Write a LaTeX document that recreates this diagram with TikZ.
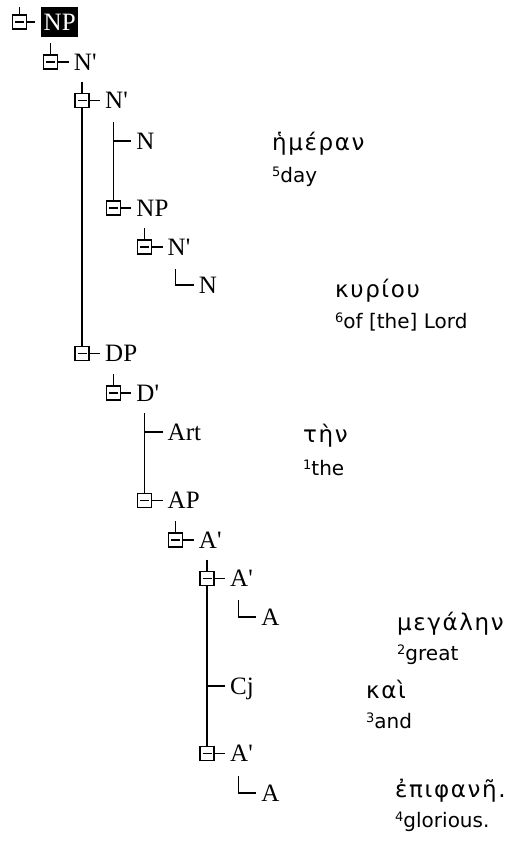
\documentclass[tikz,border=0pt]{standalone}
\usepackage{fontspec}
\newfontfamily\treefont{Liberation Serif}
\newfontfamily\grkfont[LetterSpace=7]{DejaVu Sans}
\newfontfamily\glfont{DejaVu Sans}
\newcommand\supnum[1]{{\fontsize{13}{13}\selectfont\raisebox{6pt}{#1}}}
\begin{document}
\begin{tikzpicture}[x=1pt,y=-1pt,
  ln/.style={line width=1.2pt},
  bx/.style={draw, line width=1.2pt, minimum size=14pt, inner sep=0pt, fill=white,
    path picture={\draw[line width=1.2pt] ([xshift=-4.5pt]path picture bounding box.center) -- ([xshift=4.5pt]path picture bounding box.center);}},
  lab/.style={anchor=west, inner xsep=5pt, inner ysep=0pt, text height=16pt, text depth=0pt,
    font=\treefont\fontsize{25}{25}\selectfont},
  grk/.style={anchor=base west, inner sep=0pt, font=\grkfont\fontsize{23}{23}\selectfont},
  gl/.style={anchor=base west, inner sep=0pt, font=\glfont\fontsize{20}{20}\selectfont}
]
\fill[white] (0,0) rectangle (523,844);
\useasboundingbox (0,0) rectangle (523,844);

% root NP
\node[bx] (b0) at (19.5,22) {};
\node[lab, fill=black, text=white, inner xsep=2.5pt, inner ysep=7pt] (l0) at (41,22) {NP};
\coordinate (t0) at (19.5,7);
\draw[ln] (t0) -- (b0.north);
\draw[ln] (b0.east) -- ([xshift=-6pt]l0.west);

% N' (level 1)
\node[bx] (b1) at (50.75,62) {};
\node[lab] (l1) at (68.75,62) {N\textquotesingle};
\coordinate (t1) at (50.75,43);
\draw[ln] (t1) -- (b1.north);
\draw[ln] (b1.east) -- (l1.west);

% N' (level 2)
\node[bx] (b2) at (82,100.5) {};
\node[lab] (l2) at (100,100.5) {N\textquotesingle};
\coordinate (t2) at (82,81.5);
\draw[ln] (t2) -- (b2.north);
\draw[ln] (b2.east) -- (l2.west);

% N leaf
\coordinate (t3) at (113.25,122);
\coordinate (j3) at (113.25,141);
\node[lab] (l3) at (131.25,141) {N};
\draw[ln] (j3) -- (l3.west);

% NP
\node[bx] (b4) at (113.25,208) {};
\node[lab] (l4) at (131.25,208) {NP};
\draw[ln] (t3) -- (b4.north);
\draw[ln] (b4.east) -- (l4.west);

% N'
\node[bx] (b5) at (144.5,247) {};
\node[lab] (l5) at (162.5,247) {N\textquotesingle};
\coordinate (t5) at (144.5,228);
\draw[ln] (t5) -- (b5.north);
\draw[ln] (b5.east) -- (l5.west);

% N leaf (corner)
\coordinate (t6) at (175.75,269);
\node[lab] (l6) at (193.75,285) {N};
\draw[ln] (t6) |- (l6.west);

% DP
\node[bx] (b7) at (82,353.5) {};
\node[lab] (l7) at (100,353.5) {DP};
\draw[ln] (b2.south) -- (b7.north);
\draw[ln] (b7.east) -- (l7.west);

% D'
\node[bx] (b8) at (113.25,393) {};
\node[lab] (l8) at (131.25,393) {D\textquotesingle};
\coordinate (t8) at (113.25,374);
\draw[ln] (t8) -- (b8.north);
\draw[ln] (b8.east) -- (l8.west);

% Art leaf
\coordinate (t9) at (144.5,413);
\coordinate (j9) at (144.5,432);
\node[lab] (l9) at (162.5,432) {Art};
\draw[ln] (j9) -- (l9.west);

% AP
\node[bx] (b10) at (144.5,500.5) {};
\node[lab] (l10) at (162.5,500.5) {AP};
\draw[ln] (t9) -- (b10.north);
\draw[ln] (b10.east) -- (l10.west);

% A' (level 5)
\node[bx] (b11) at (175.75,540) {};
\node[lab] (l11) at (193.75,540) {A\textquotesingle};
\coordinate (t11) at (175.75,521);
\draw[ln] (t11) -- (b11.north);
\draw[ln] (b11.east) -- (l11.west);

% A' (level 6, first)
\node[bx] (b12) at (207,578.5) {};
\node[lab] (l12) at (225,578.5) {A\textquotesingle};
\coordinate (t12) at (207,559.5);
\draw[ln] (t12) -- (b12.north);
\draw[ln] (b12.east) -- (l12.west);

% A leaf (corner)
\coordinate (t13) at (238.25,600);
\node[lab] (l13) at (256.25,617) {A};
\draw[ln] (t13) |- (l13.west);

% Cj leaf
\coordinate (j14) at (207,686);
\node[lab] (l14) at (225,686) {Cj};
\draw[ln] (j14) -- (l14.west);

% A' (level 6, last)
\node[bx] (b15) at (207,753.5) {};
\node[lab] (l15) at (225,753.5) {A\textquotesingle};
\draw[ln] (b12.south) -- (b15.north);
\draw[ln] (b15.east) -- (l15.west);

% A leaf (corner)
\coordinate (t16) at (238.25,776);
\node[lab] (l16) at (256.25,793) {A};
\draw[ln] (t16) |- (l16.west);

% Greek text and glosses
\node[grk] (g1) at (272,150) {ἡμέραν};
\node[gl]  (e1) at (272,182) {\supnum{5}day};
\node[grk] (g2) at (335,297) {κυρίου};
\node[gl]  (e2) at (335,328) {\supnum{6}of [the] Lord};
\node[grk] (g3) at (303,442) {τὴν};
\node[gl]  (e3) at (303,475) {\supnum{1}the};
\node[grk] (g4) at (397,630) {μεγάλην};
\node[gl]  (e4) at (397,660) {\supnum{2}great};
\node[grk] (g5) at (366,698) {καὶ};
\node[gl]  (e5) at (366,728) {\supnum{3}and};
\node[grk] (g6) at (395,797) {ἐπιφανῆ.};
\node[gl]  (e6) at (395,827) {\supnum{4}glorious.};
\end{tikzpicture}
\end{document}
